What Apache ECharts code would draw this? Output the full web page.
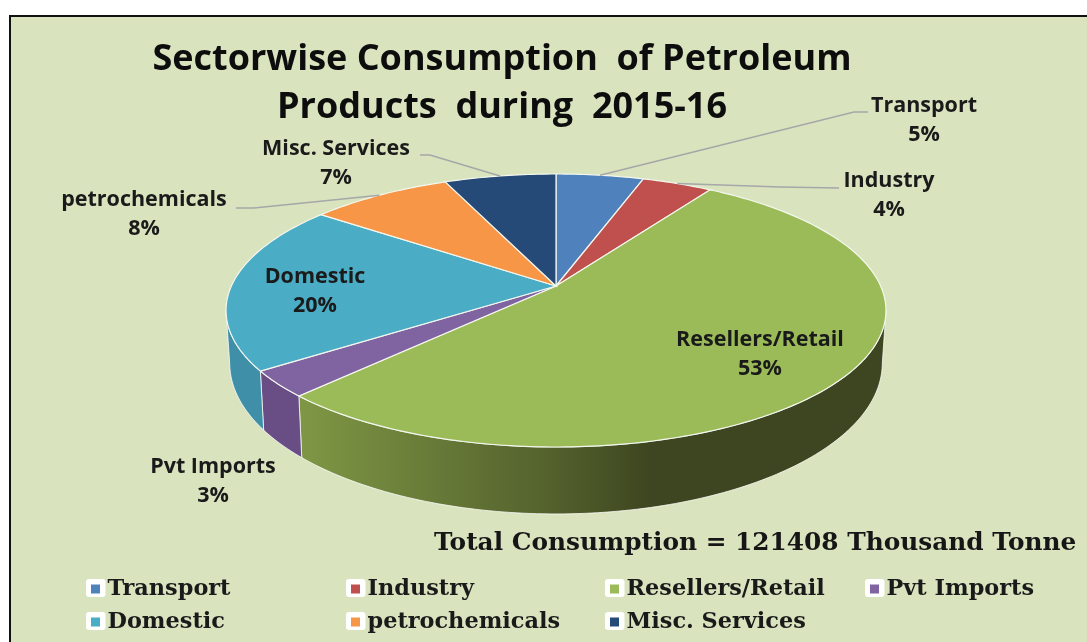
<!DOCTYPE html>
<html><head><meta charset="utf-8">
<script src="https://cdn.jsdelivr.net/npm/echarts@6/dist/echarts.min.js"></script>
<style>html,body{margin:0;padding:0;background:#fff}#c{width:1087px;height:642px}</style></head>
<body><div id="c"></div>
<script>
// ---- data ----
const categories = ['Transport','Industry','Resellers/Retail','Pvt Imports','Domestic','petrochemicals','Misc. Services'];
const shares = [5.1,4.1,52.9,3.1,20.0,8.3,6.5];
const titleText = 'Sectorwise Consumption  of Petroleum\nProducts  during  2015-16';
const totalText = 'Total Consumption = 121408 Thousand Tonne';
// ---- style ----
const colors = ['#4f81bd','#c0504d','#9bbb59','#8064a2','#4bacc6','#f79646','#264a78'];
const sideColors = [null,null,null,'#684e85','#3f8fa8',null,null];
const labelAt = [[924,120],[889,195],[760,354],[213,481],[315,291],[144,214],[336,163]];
const leaderElbow = [[[868,112],[854,112]],[[839,188],[780,187]],null,null,null,[[236,208],[254,208]],[[420,155],[430,155]]];
const legendAt = [[91,578],[351,578],[610,578],[870,578],[91,611],[351,611],[610,611]];
const sansFont = '"Open Sans", sans-serif';
const serifFont = '"DejaVu Serif", serif';
// ---- projection of the tilted disc ----
const cx=556, topFace={y0:286,a:324.6,b:132.1}, botFace={y0:336,a:321,b:146}, k=0.1795;
const visibleFrom=100.4, visibleTo=259.6;
function pt(face,deg){const t=deg*Math.PI/180,u=Math.sin(t),v=-Math.cos(t),d=1-k*v;
  return [cx+face.a*u/d, face.y0+face.b*v/d];}
function arc(face,a0,a1){const n=Math.max(2,Math.ceil(Math.abs(a1-a0)));const r=[];
  for(let i=0;i<=n;i++) r.push(pt(face,a0+(a1-a0)*i/n));return r;}
const total=shares.reduce((s,v)=>s+v,0);
function startOf(i){let s=0;for(let j=0;j<i;j++)s+=shares[j];return s/total*360;}
const resellerSide={type:'linear',x:296,y:0,x2:650,y2:0,global:true,colorStops:[
  {offset:0,color:'#7f9845'},{offset:.73,color:'#53602c'},{offset:1,color:'#3d4620'}]};

function makeItem(i){
  return function(params,api){
    const val=api.value(0), a0=startOf(i), a1=a0+val/total*360, mid=(a0+a1)/2, children=[];
    const s0=Math.max(a0,visibleFrom), s1=Math.min(a1,visibleTo);
    if(s1>s0){
      children.push({type:'polygon',shape:{points:arc(topFace,s0,s1).concat(arc(botFace,s1,s0))},
        style:{fill:i===2?resellerSide:sideColors[i],stroke:'rgba(255,255,255,.75)',lineWidth:1}});
    }
    children.push({type:'polygon',shape:{points:[[cx,topFace.y0]].concat(arc(topFace,a0,a1))},
      style:{fill:colors[i],stroke:'#f4f7ee',lineWidth:1.2}});
    if(leaderElbow[i]){
      children.push({type:'polyline',shape:{points:leaderElbow[i].concat([pt(topFace,mid)])},
        style:{fill:'none',stroke:'#a5a7a8',lineWidth:1.5}});
    }
    children.push({type:'text',z2:10,style:{x:labelAt[i][0],y:labelAt[i][1],
      text:categories[i]+'\n'+Math.round(val/total*100)+'%',
      font:'bold 21.5px '+sansFont,fill:'#1a1a1a',align:'center',verticalAlign:'middle',lineHeight:29}});
    return {type:'group',children};
  };
}
const chart=echarts.init(document.getElementById('c'),null,{renderer:'canvas'});
chart.setOption({
  animation:false,backgroundColor:'#ffffff',
  graphic:[{type:'rect',z:-10,silent:true,shape:{x:10,y:16,width:1100,height:660},
    style:{fill:'#d9e4bf',stroke:'#111',lineWidth:2}}].concat(legendAt.map(p=>({
      type:'rect',z:-5,silent:true,shape:{x:p[0]-5,y:p[1]+1,width:19.5,height:18,r:3},style:{fill:'#fff'}}))),
  title:[
    {text:titleText,left:497,top:31,textAlign:'center',textStyle:{fontFamily:'"Open Sans", sans-serif',fontWeight:'bold',fontSize:36,lineHeight:48,color:'#0d0d0d'}},
    {text:totalText,left:429,top:526,textStyle:{fontFamily:serifFont,fontWeight:'bold',fontSize:24.8,color:'#161616'}}
  ],
  legend:categories.map((c,i)=>({data:[c],left:legendAt[i][0],top:legendAt[i][1],icon:'rect',itemWidth:9,itemHeight:9,
    padding:0,
    textStyle:{fontFamily:serifFont,fontWeight:'bold',fontSize:22.4,color:'#1a1a1a',padding:[0,0,0,2.5]}})),
  series:categories.map((c,i)=>({name:c,type:'custom',coordinateSystem:'none',silent:true,
    itemStyle:{color:colors[i]},data:[[shares[i]]],renderItem:makeItem(i)}))
});
</script></body></html>
